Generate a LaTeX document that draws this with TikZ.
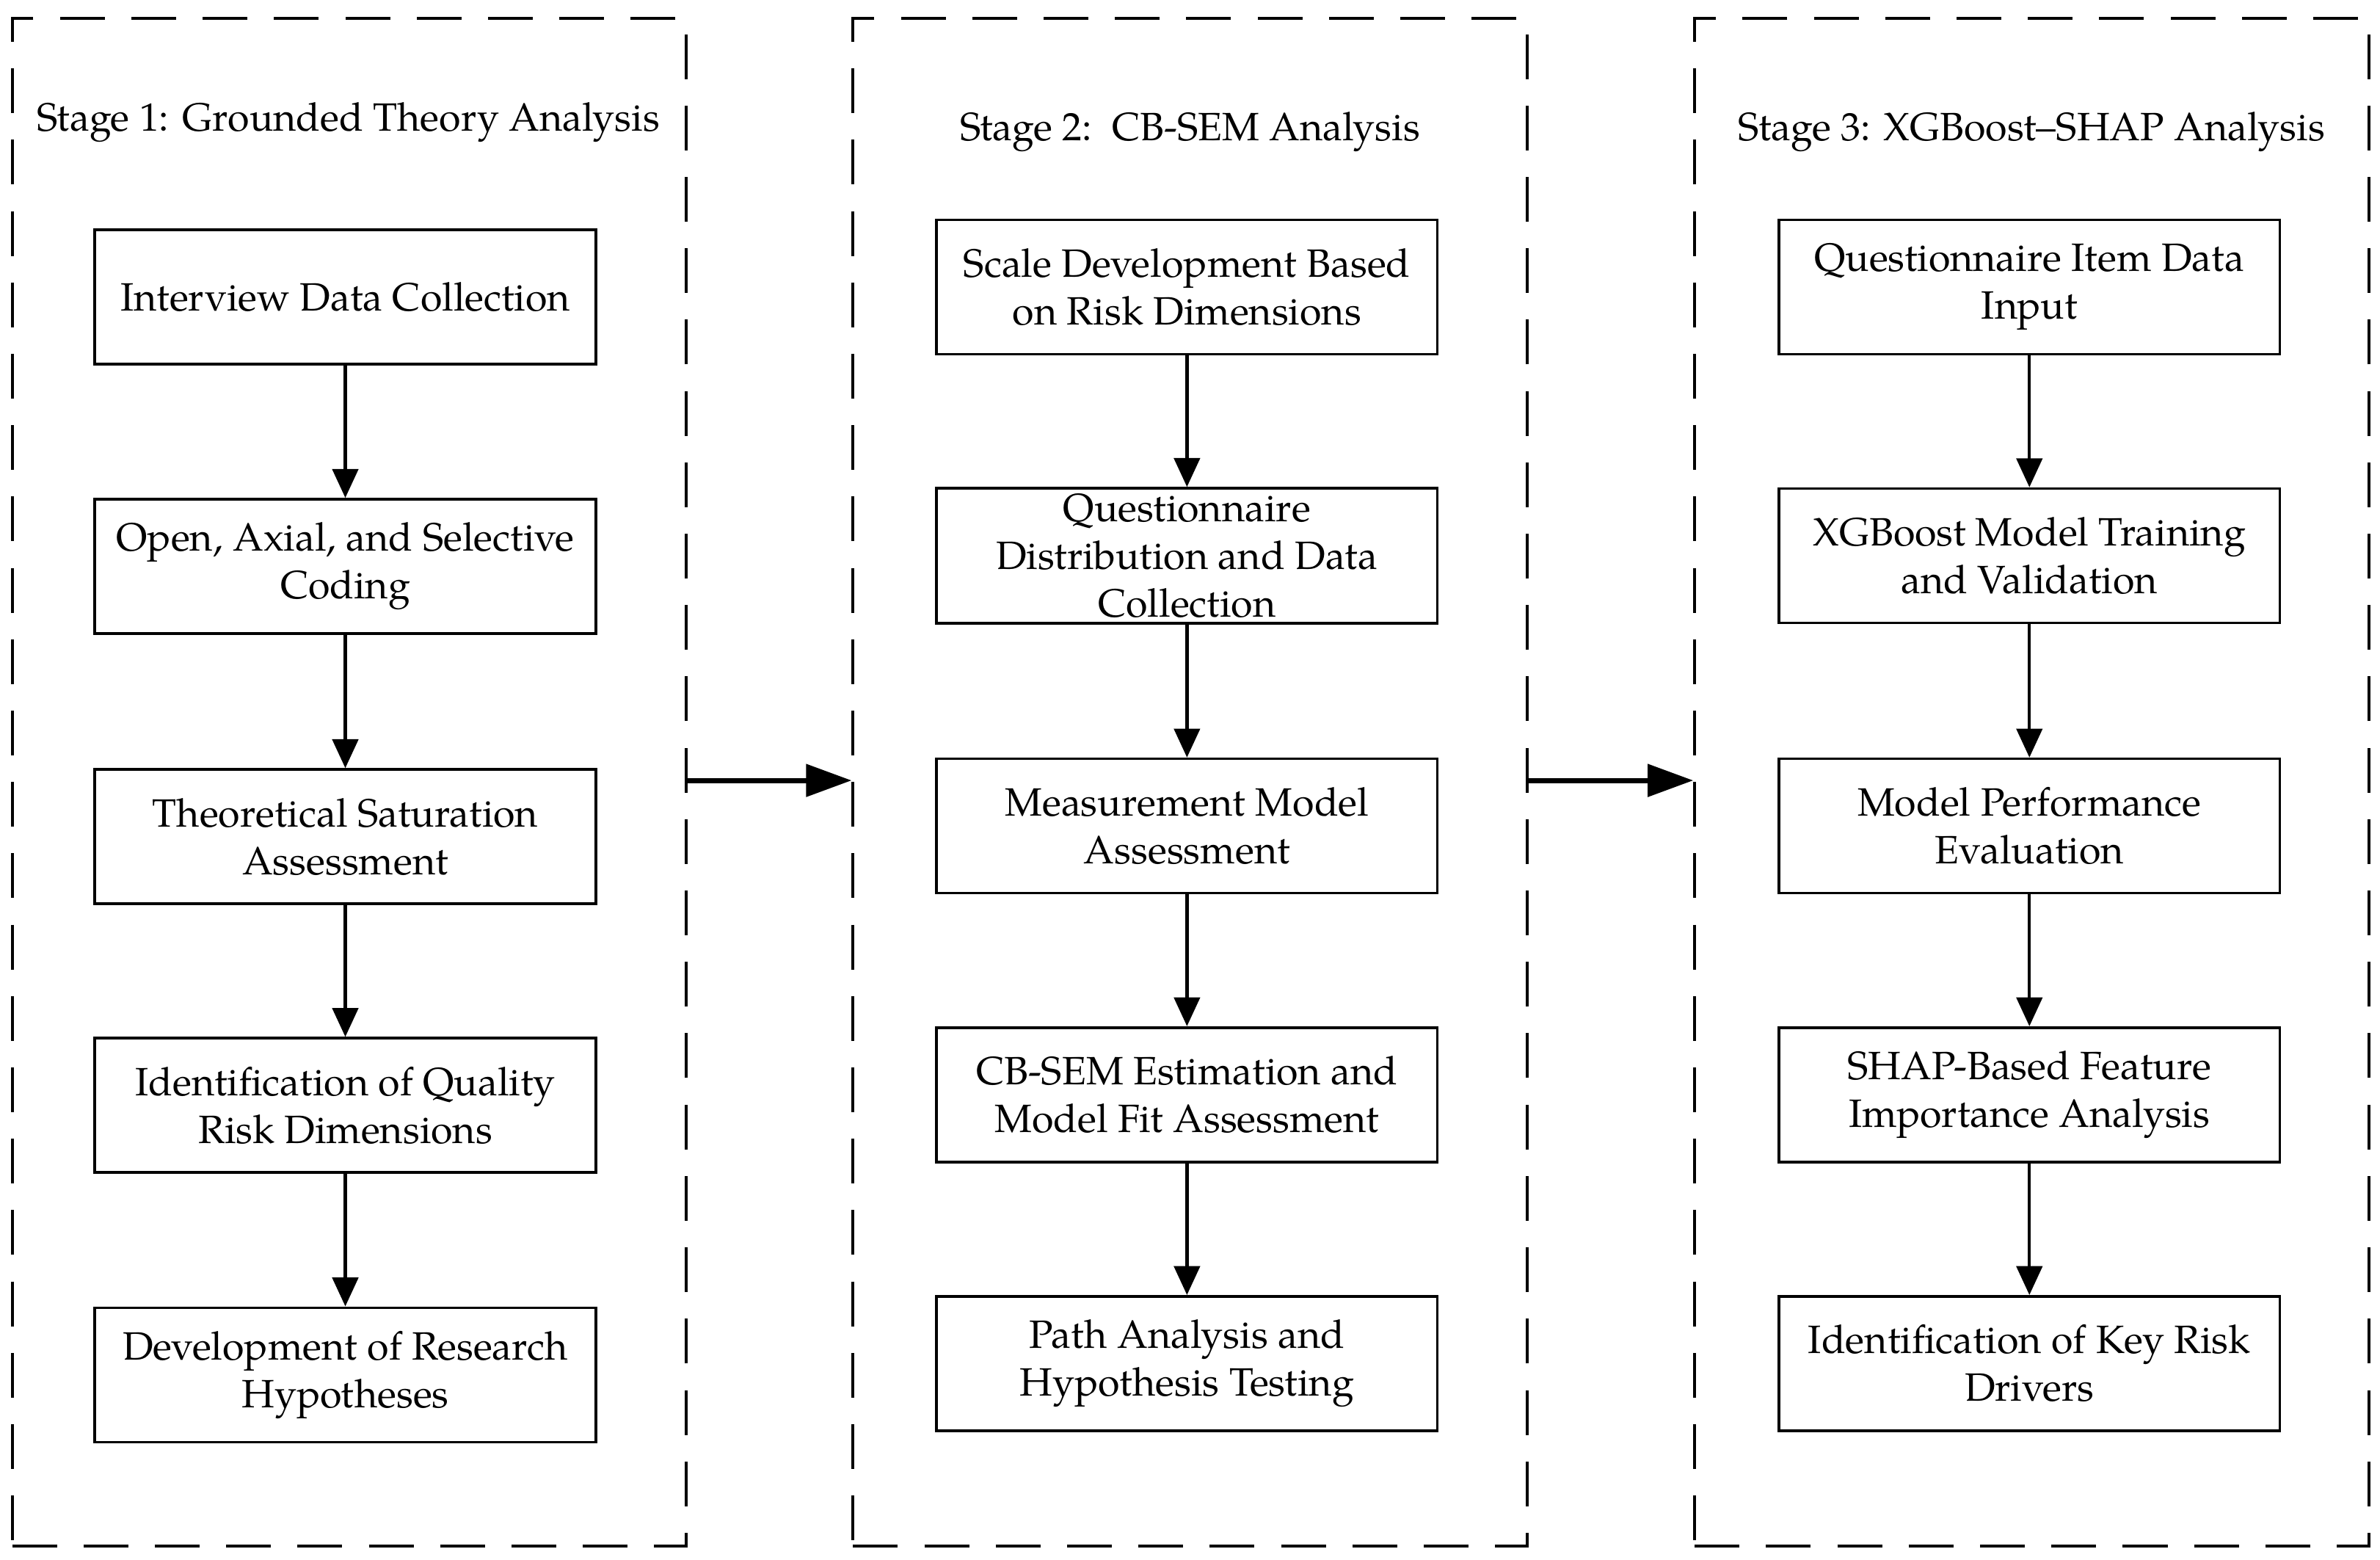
\documentclass[tikz,border=0pt]{standalone}
\usepackage{fontspec}
\setmainfont{TeX Gyre Pagella}
\usetikzlibrary{arrows.meta}
\begin{document}
\begin{tikzpicture}[
  stagebox/.style={draw, line width=1.1pt, dash pattern=on 0.59cm off 0.35cm, minimum width=8.88cm, minimum height=20.12cm, inner sep=0pt},
  stepbox/.style={draw, line width=1pt, minimum width=6.6cm, minimum height=1.77cm, align=center, inner sep=2pt, font=\fontsize{14.8}{17.9}\selectfont},
  titletext/.style={font=\fontsize{14.8}{17.9}\selectfont, inner sep=0pt},
  flow/.style={line width=1.2pt, -{Triangle[length=0.38cm, width=0.34cm]}},
  bigflow/.style={line width=1.9pt, -{Triangle[length=0.6cm, width=0.42cm]}}
]
\useasboundingbox (0,0) rectangle (31.36,-20.54);
% stage boxes
\node[stagebox] (s1) at (4.60,-10.30) {};
\node[stagebox] (s2) at (15.68,-10.30) {};
\node[stagebox] (s3) at (26.77,-10.30) {};
% titles
\node[titletext] (t1) at (4.59,-1.61) {Stage 1: Grounded Theory Analysis};
\node[titletext] (t2) at (15.68,-1.74) {Stage 2:\ \ CB-SEM Analysis};
\node[titletext] (t3) at (26.77,-1.74) {Stage 3: XGBoost–SHAP Analysis};
% column 1
\node[stepbox] (a1) at (4.55,-3.91) {Interview Data Collection};
\node[stepbox] (a2) at (4.55,-7.46) {Open, Axial, and Selective\\Coding};
\node[stepbox] (a3) at (4.55,-11.02) {Theoretical Saturation\\Assessment};
\node[stepbox] (a4) at (4.55,-14.56) {Identification of Quality\\Risk Dimensions};
\node[stepbox] (a5) at (4.55,-18.11) {Development of Research\\Hypotheses};
% column 2
\node[stepbox] (b1) at (15.64,-3.78) {Scale Development Based\\on Risk Dimensions};
\node[stepbox] (b2) at (15.64,-7.32) {Questionnaire\\Distribution and Data\\Collection};
\node[stepbox] (b3) at (15.64,-10.88) {Measurement Model\\Assessment};
\node[stepbox] (b4) at (15.64,-14.42) {CB-SEM Estimation and\\Model Fit Assessment};
\node[stepbox] (b5) at (15.64,-17.96) {Path Analysis and\\Hypothesis Testing};
% column 3
\node[stepbox] (c1) at (26.74,-3.78) {Questionnaire Item Data\\Input};
\node[stepbox] (c2) at (26.74,-7.32) {XGBoost Model Training\\and Validation};
\node[stepbox] (c3) at (26.74,-10.88) {Model Performance\\Evaluation};
\node[stepbox] (c4) at (26.74,-14.42) {SHAP-Based Feature\\Importance Analysis};
\node[stepbox] (c5) at (26.74,-17.96) {Identification of Key Risk\\Drivers};
% vertical arrows
\foreach \col in {a,b,c}{
  \draw[flow] (\col1) -- (\col2);
  \draw[flow] (\col2) -- (\col3);
  \draw[flow] (\col3) -- (\col4);
  \draw[flow] (\col4) -- (\col5);
}
% stage arrows
\draw[bigflow] (s1.east |- 0,-10.28) -- (s2.west |- 0,-10.28);
\draw[bigflow] (s2.east |- 0,-10.28) -- (s3.west |- 0,-10.28);
\end{tikzpicture}
\end{document}
